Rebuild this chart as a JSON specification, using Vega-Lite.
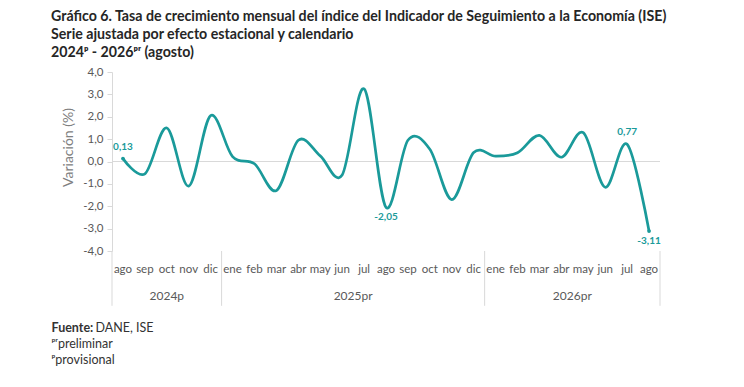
{
  "$schema": "https://vega.github.io/schema/vega-lite/v6.json",
  "width": 548,
  "height": 179,
  "autosize": {"type": "none"},
  "padding": {"left": 112, "top": 72, "right": 84, "bottom": 136},
  "background": "white",
  "config": {
    "font": "Lato",
    "view": {"stroke": null},
    "axis": {"grid": false},
    "locale": {
      "number": {"decimal": ",", "thousands": ".", "grouping": [3], "currency": ["$", ""], "minus": "-"}
    }
  },
  "title": {
    "text": [
      "Gráfico 6. Tasa de crecimiento mensual del índice del Indicador de Seguimiento a la Economía (ISE)",
      "Serie ajustada por efecto estacional y calendario",
      "2024ᵖ - 2026ᵖʳ (agosto)"
    ],
    "anchor": "start",
    "frame": "group",
    "dx": -61,
    "fontSize": 14.2,
    "fontWeight": "bold",
    "color": "#262626",
    "lineHeight": 18,
    "offset": 6
  },
  "data": {
    "values": [
      {"k": "ago 2024", "v": 0.13},
      {"k": "sep 2024", "v": -0.55},
      {"k": "oct 2024", "v": 1.5},
      {"k": "nov 2024", "v": -1.1},
      {"k": "dic 2024", "v": 2.05},
      {"k": "ene 2025", "v": 0.22},
      {"k": "feb 2025", "v": -0.1},
      {"k": "mar 2025", "v": -1.3},
      {"k": "abr 2025", "v": 0.95},
      {"k": "may 2025", "v": 0.25},
      {"k": "jun 2025", "v": -0.6},
      {"k": "jul 2025", "v": 3.25},
      {"k": "ago 2025", "v": -2.05},
      {"k": "sep 2025", "v": 0.95},
      {"k": "oct 2025", "v": 0.55},
      {"k": "nov 2025", "v": -1.7},
      {"k": "dic 2025", "v": 0.4},
      {"k": "ene 2026", "v": 0.24},
      {"k": "feb 2026", "v": 0.39},
      {"k": "mar 2026", "v": 1.17},
      {"k": "abr 2026", "v": 0.19},
      {"k": "may 2026", "v": 1.29},
      {"k": "jun 2026", "v": -1.15},
      {"k": "jul 2026", "v": 0.77},
      {"k": "ago 2026", "v": -3.11}
    ]
  },
  "layer": [
    {
      "mark": {"type": "rule", "color": "#d9d9d9", "strokeWidth": 1},
      "encoding": {"y": {"datum": 0, "axis": null}}
    },
    {
      "mark": {"type": "line", "interpolate": "cardinal", "strokeWidth": 2.7, "color": "#1a9a9a"},
      "encoding": {
        "x": {
          "field": "k",
          "type": "nominal",
          "sort": null,
          "bandPosition": 0.5,
          "scale": {
            "type": "band",
            "paddingInner": 0,
            "paddingOuter": 0,
            "domain": ["ago 2024", "sep 2024", "oct 2024", "nov 2024", "dic 2024",
              "ene 2025", "feb 2025", "mar 2025", "abr 2025", "may 2025", "jun 2025",
              "jul 2025", "ago 2025", "sep 2025", "oct 2025", "nov 2025", "dic 2025",
              "ene 2026", "feb 2026", "mar 2026", "abr 2026", "may 2026", "jun 2026",
              "jul 2026", "ago 2026"]
          },
          "axis": {
            "orient": "bottom",
            "domain": false,
            "ticks": false,
            "labelExpr": "split(datum.value, ' ')[0]",
            "labelAngle": 0,
            "labelFontSize": 11.5,
            "labelColor": "#595959",
            "labelPadding": 12,
            "labelOverlap": false,
            "title": ["ᵖʳpreliminar", "ᵖprovisional"],
            "titleX": -61,
            "titleY": 86,
            "titleAlign": "left",
            "titleAnchor": "start",
            "titleBaseline": "top",
            "titleFontSize": 12.5,
            "titleFontWeight": "normal",
            "titleColor": "#333333",
            "titleLineHeight": 16
          }
        },
        "y": {
          "field": "v",
          "type": "quantitative",
          "scale": {"domain": [-4, 4], "nice": false, "zero": false},
          "axis": {
            "orient": "left",
            "values": [-4, -3, -2, -1, 0, 1, 2, 3, 4],
            "format": ".1f",
            "labelOverlap": false,
            "domain": true,
            "domainColor": "#d9d9d9",
            "ticks": true,
            "tickColor": "#d9d9d9",
            "tickSize": 5,
            "labelFontSize": 11.5,
            "labelColor": "#595959",
            "labelPadding": 4,
            "title": "Variación (%)",
            "titleFontSize": 14,
            "titleFontWeight": "normal",
            "titleColor": "#808080",
            "titleX": -44,
            "titleY": 75,
            "titleBaseline": "middle"
          }
        }
      }
    },
    {
      "data": {"values": [{"k": "ago 2024"}, {"k": "ene 2025"}, {"k": "ene 2026"}]},
      "mark": {"type": "rule", "color": "#d9d9d9", "strokeWidth": 1},
      "encoding": {
        "x": {"field": "k", "type": "nominal", "sort": null, "bandPosition": 0, "axis": null},
        "y": {"datum": -4, "axis": null},
        "y2": {"datum": -6.45}
      }
    },
    {
      "data": {"values": [{"k": "ago 2026"}]},
      "mark": {"type": "rule", "color": "#d9d9d9", "strokeWidth": 1},
      "encoding": {
        "x": {"field": "k", "type": "nominal", "sort": null, "bandPosition": 1, "axis": null},
        "y": {"datum": -4, "axis": null},
        "y2": {"datum": -6.45}
      }
    },
    {
      "data": {"values": [{"k": "oct 2024", "anio": "2024p"}]},
      "mark": {"type": "text", "fontSize": 12, "color": "#595959"},
      "encoding": {
        "x": {
          "field": "k", "type": "nominal", "sort": null, "bandPosition": 0.5,
          "axis": {
            "orient": "top",
            "labels": false,
            "ticks": false,
            "domain": false,
            "title": "Fuente:",
            "titleX": -61,
            "titleY": 255,
            "titleAlign": "left",
            "titleAnchor": "start",
            "titleBaseline": "middle",
            "titleFontSize": 12.5,
            "titleFontWeight": "bold",
            "titleColor": "#333333"
          }
        },
        "y": {"datum": -6, "axis": null},
        "text": {"field": "anio"}
      }
    },
    {
      "data": {"values": [{"k": "jun 2025", "anio": "2025pr"}, {"k": "abr 2026", "anio": "2026pr"}]},
      "mark": {"type": "text", "fontSize": 12, "color": "#595959"},
      "encoding": {
        "x": {
          "field": "k", "type": "nominal", "sort": null, "bandPosition": 1,
          "axis": {
            "orient": "top",
            "labels": false,
            "ticks": false,
            "domain": false,
            "title": "DANE, ISE",
            "titleX": -17,
            "titleY": 255,
            "titleAlign": "left",
            "titleAnchor": "start",
            "titleBaseline": "middle",
            "titleFontSize": 12.5,
            "titleFontWeight": "normal",
            "titleColor": "#333333"
          }
        },
        "y": {"datum": -6, "axis": null},
        "text": {"field": "anio"}
      }
    },
    {
      "transform": [{"filter": "datum.k == 'ago 2024' || datum.k == 'jul 2026'"}],
      "mark": {"type": "text", "dy": -12, "fontSize": 10, "fontWeight": "bold", "color": "#1a9a9a"},
      "encoding": {
        "x": {"field": "k", "type": "nominal", "sort": null, "bandPosition": 0.5, "axis": null},
        "y": {"field": "v", "type": "quantitative", "axis": null},
        "text": {"field": "v", "type": "quantitative", "format": ".2f"}
      }
    },
    {
      "transform": [{"filter": "datum.k == 'ago 2025' || datum.k == 'ago 2026'"}],
      "mark": {"type": "text", "dy": 10, "fontSize": 10, "fontWeight": "bold", "color": "#1a9a9a"},
      "encoding": {
        "x": {"field": "k", "type": "nominal", "sort": null, "bandPosition": 0.5, "axis": null},
        "y": {"field": "v", "type": "quantitative", "axis": null},
        "text": {"field": "v", "type": "quantitative", "format": ".2f"}
      }
    },
    {
      "transform": [{"filter": "datum.k == 'ago 2024' || datum.k == 'ago 2026'"}],
      "mark": {"type": "point", "filled": true, "size": 14, "color": "#1a9a9a", "opacity": 1},
      "encoding": {
        "x": {"field": "k", "type": "nominal", "sort": null, "bandPosition": 0.5, "axis": null},
        "y": {"field": "v", "type": "quantitative", "axis": null}
      }
    }
  ],
  "resolve": {"axis": {"x": "independent", "y": "independent"}}
}
